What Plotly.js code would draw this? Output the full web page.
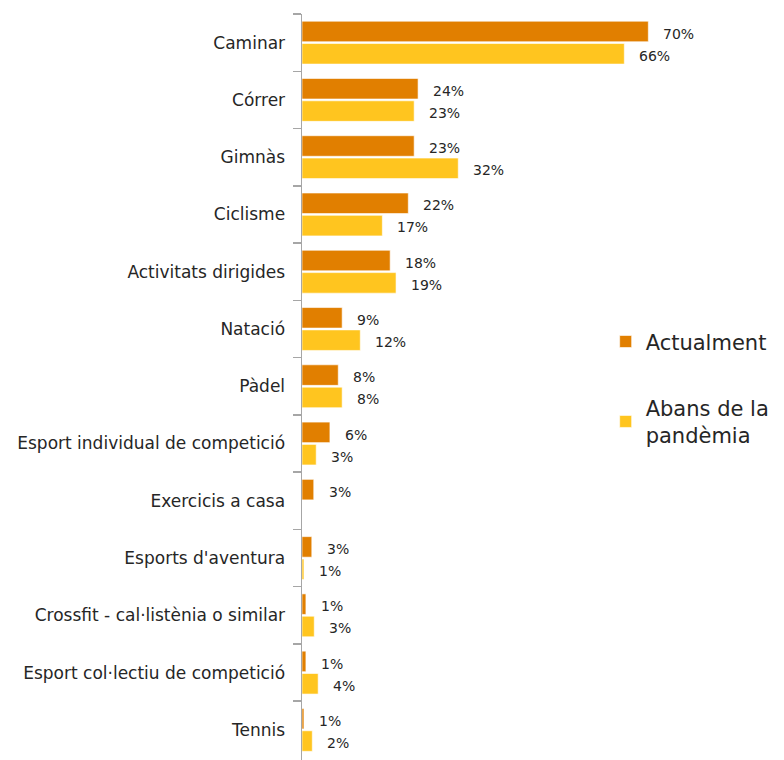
<!DOCTYPE html>
<html>
<head>
<meta charset="utf-8">
<script src="https://cdn.plot.ly/plotly-3.0.1.min.js"></script>
<style>html,body{margin:0;padding:0;background:#fff;}#chart{width:784px;height:760px;}</style>
</head>
<body>
<div id="chart"></div>
<script>
const categories = ["Caminar", "Córrer", "Gimnàs", "Ciclisme", "Activitats dirigides", "Natació", "Pàdel",
  "Esport individual de competició", "Exercicis a casa", "Esports d'aventura",
  "Crossfit - cal·listènia o similar", "Esport col·lectiu de competició", "Tennis"];
const seriesNames = ["Actualment", "Abans de la<br>pandèmia"];
const actualment = [70.7, 23.7, 22.9, 21.7, 18.0, 8.2, 7.4, 5.7, 2.4, 2.0, 0.8, 0.8, 0.4];
const abans = [65.8, 22.9, 31.9, 16.4, 19.2, 11.9, 8.2, 2.9, null, 0.4, 2.5, 3.3, 2.1];
const labelsActualment = ["70%", "24%", "23%", "22%", "18%", "9%", "8%", "6%", "3%", "3%", "1%", "1%", "1%"];
const labelsAbans = ["66%", "23%", "32%", "17%", "19%", "12%", "8%", "3%", null, "1%", "3%", "4%", "2%"];

const colors = ["#E17F00", "#FFC51F"];
const FONT = "DejaVu Sans, sans-serif";

const traces = [
  {type: "bar", orientation: "h", name: seriesNames[0], y: categories, x: actualment,
   marker: {color: colors[0], line: {color: "#ffffff", width: 0.6}}, legendgroup: "a", hoverinfo: "x+y"},
  {type: "bar", orientation: "h", name: seriesNames[1], y: categories, x: abans,
   marker: {color: colors[1], line: {color: "#ffffff", width: 0.6}}, legendgroup: "b", hoverinfo: "x+y"}
];

const annotations = [];
function addLabels(vals, labels, yshift) {
  vals.forEach((v, i) => {
    if (v === null || labels[i] === null) return;
    annotations.push({x: v, y: categories[i], xref: "x", yref: "y", text: labels[i], showarrow: false,
      xanchor: "left", yanchor: "middle", xshift: 13, yshift: yshift,
      font: {family: FONT, size: 14, color: "#262626"}});
  });
}
addLabels(actualment, labelsActualment, 9);
addLabels(abans, labelsAbans, -13);

const layout = {
  width: 784, height: 760,
  margin: {l: 302, r: 0, t: 14, b: 0, pad: 0},
  paper_bgcolor: "#ffffff", plot_bgcolor: "#ffffff",
  barmode: "group", bargap: 0.22, bargroupgap: 0.08,
  font: {family: FONT, color: "#262626"},
  showlegend: true,
  legend: {x: 0.63, y: 0.588, xanchor: "left", yanchor: "top", traceorder: "grouped", tracegroupgap: 36,
    font: {family: FONT, size: 21, color: "#262626"}, bgcolor: "rgba(0,0,0,0)"},
  xaxis: {range: [0, 98.4], visible: false, fixedrange: true},
  yaxis: {type: "category", range: [12.526, -0.5], showline: true, linecolor: "#A6A6A6", linewidth: 1.5,
    ticks: "outside", tickson: "boundaries", ticklen: 8, tickwidth: 1.5, tickcolor: "#A6A6A6",
    ticklabelstandoff: 12,
    showgrid: false, zeroline: false, tickfont: {family: FONT, size: 17, color: "#262626"}, fixedrange: true},
  annotations: annotations
};

Plotly.newPlot("chart", traces, layout, {displayModeBar: false, staticPlot: true});
</script>
</body>
</html>
